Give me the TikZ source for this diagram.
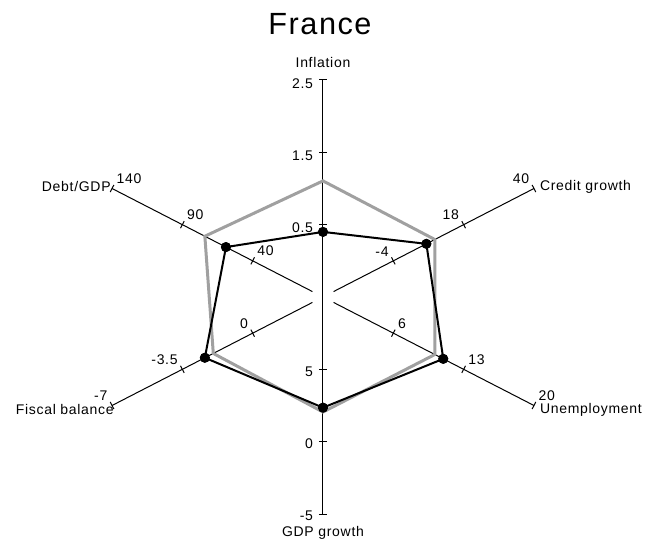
\documentclass[tikz,border=0pt]{standalone}
\usepackage{fontspec}
\setmainfont{Liberation Sans}[LetterSpace=5]
\usetikzlibrary{calc}
\definecolor{hexgray}{RGB}{160,160,160}
\tikzset{
  axisline/.style={black, line width=0.75pt},
  ticklbl/.style={font=\fontsize{10.5}{12}\selectfont},
  axislbl/.style={font=\fontsize{10.5}{12}\selectfont},
  grayhex/.style={hexgray, line width=2.25pt},
  blackhex/.style={black, line width=1.5pt},
  dot/.style={circle, fill=black, inner sep=0pt, minimum size=7.5pt},
}

\begin{document}
\begin{tikzpicture}[x=0.75pt,y=0.75pt]
\useasboundingbox (-323,-245) rectangle (327,297);
\coordinate (O) at (0,0);
\coordinate (inf) at (90:217);
\coordinate (cg) at (30:243.6 and 217);
\coordinate (un) at (-30:243.6 and 217);
\coordinate (gdp) at (270:217);
\coordinate (fb) at (210:243.6 and 217);
\coordinate (dg) at (150:243.6 and 217);

\node[font=\fontsize{23}{27}\selectfont, anchor=base] (title) at (-3,262) {France};

% spokes
\draw[axisline] (inf) -- (gdp);
\foreach \e in {cg,un,fb,dg}
  \draw[axisline] ($(O)!0.05!(\e)$) -- (\e);

% ticks and their values
\foreach \e/\va/\vb/\vc/\anc/\dx/\dy in {inf/0.5/1.5/2.5/east/-4pt/-2.5pt,
    gdp/5/0/-5/east/-4pt/-1.5pt, cg/-4/18/40/south east/0pt/0pt,
    un/6/13/20/south west/0pt/0pt, fb/0/-3.5/-7/south east/0pt/0pt,
    dg/40/90/140/south west/0pt/0pt}
  \foreach \f/\v/\i in {0.3333/\va/1, 0.6667/\vb/2, 1/\vc/3}
  {
    \coordinate (t-\e-\i) at ($(O)!\f!(\e)$);
    \draw[axisline] ($(t-\e-\i)!3pt!90:(O)$) -- ($(t-\e-\i)!-3pt!90:(O)$);
    \node[ticklbl, anchor=\anc] (v-\e-\i) at ([xshift=\dx,yshift=\dy]t-\e-\i) {\v};
  }

% axis names
\node[axislbl, above=6pt] (l-inf) at (inf) {Inflation};
\node[axislbl, below=5.5pt] (l-gdp) at (gdp) {GDP growth};
\node[axislbl, right=1pt, yshift=1pt] (l-cg) at (cg) {Credit growth};
\node[axislbl, right=1pt, yshift=-3pt] (l-un) at (un) {Unemployment};
\node[axislbl, anchor=east, xshift=4.8pt, yshift=-3pt] (l-fb) at (fb) {Fiscal balance};
\node[axislbl, anchor=east, xshift=2.5pt, yshift=1.5pt] (l-dg) at (dg) {Debt/GDP};

% gray hexagon
\foreach \e/\f in {inf/0.535, cg/0.53, un/0.53, gdp/0.53, fb/0.52, dg/0.56}
  \coordinate (g-\e) at ($(O)!\f!(\e)$);
\draw[grayhex] (g-inf) -- (g-cg) -- (g-un) -- (g-gdp) -- (g-fb) -- (g-dg) -- cycle;

% black line with dots
\foreach \e/\f in {inf/0.30, cg/0.49, un/0.57, gdp/0.51, fb/0.56, dg/0.46}
  \node[dot] (d-\e) at ($(O)!\f!(\e)$) {};
\draw[blackhex] (d-inf.center) -- (d-cg.center) -- (d-un.center) -- (d-gdp.center)
  -- (d-fb.center) -- (d-dg.center) -- cycle;
\foreach \e in {inf,cg,un,gdp,fb,dg}
  \fill (d-\e) circle (3.75pt);
\end{tikzpicture}
\end{document}
